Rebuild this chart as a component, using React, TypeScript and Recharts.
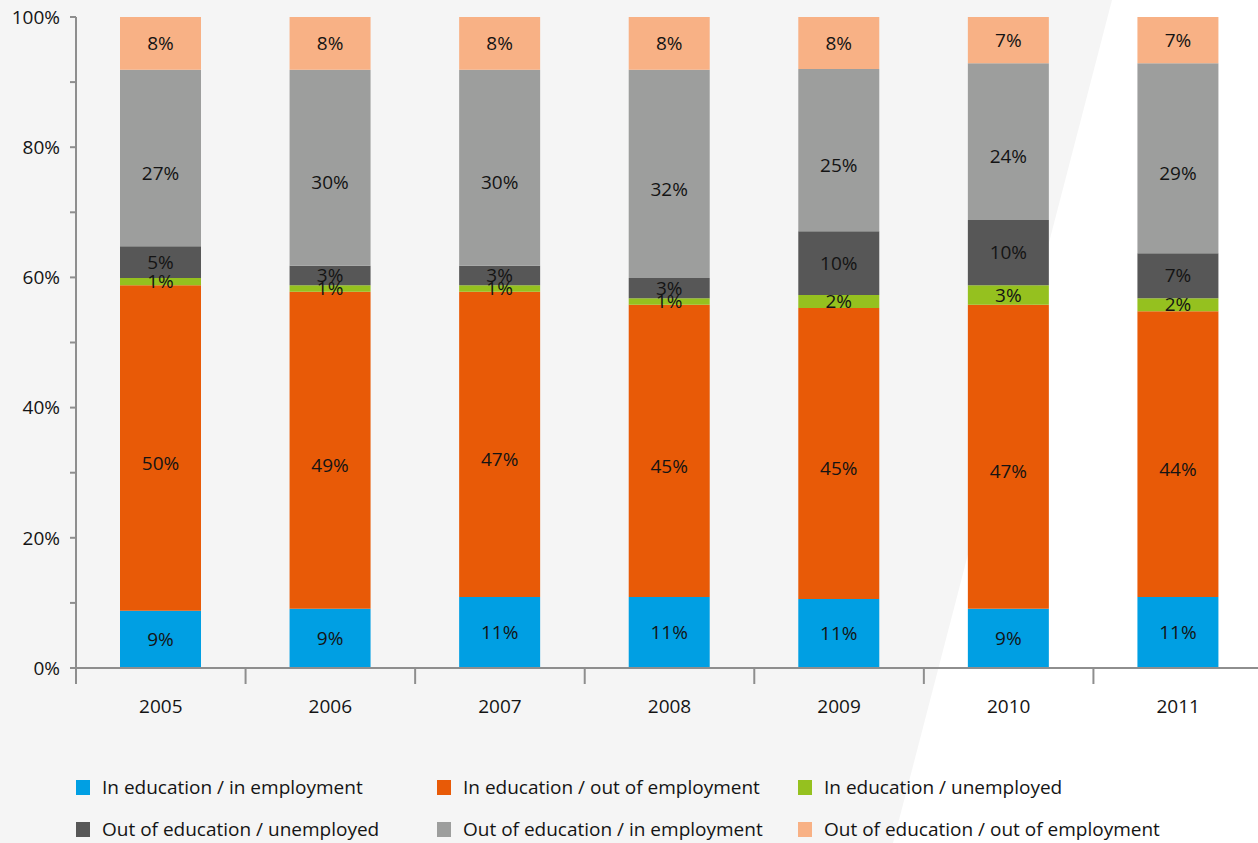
import React from 'react';
import { BarChart, Bar, XAxis, YAxis, LabelList } from 'recharts';

const years = ['2005', '2006', '2007', '2008', '2009', '2010', '2011'];

// shares in %, bottom to top of each stack
const inEduInEmp = [8.8, 9.1, 10.9, 10.9, 10.6, 9.1, 10.9];
const inEduOutEmp = [50.0, 48.7, 46.9, 44.9, 44.7, 46.7, 43.9];
const inEduUnemp = [1.1, 1.0, 1.0, 1.0, 2.0, 3.0, 2.0];
const outEduUnemp = [4.9, 3.0, 3.0, 3.1, 9.8, 10.0, 6.9];
const outEduInEmp = [27.1, 30.1, 30.1, 32.0, 24.9, 24.1, 29.2];
const outEduOutEmp = [8.1, 8.1, 8.1, 8.1, 8.0, 7.1, 7.1];

const yTicks = [0, 10, 20, 30, 40, 50, 60, 70, 80, 90, 100];

const series = [
  { key: 'a', name: 'In education / in employment', values: inEduInEmp, color: '#009FE3' },
  { key: 'b', name: 'In education / out of employment', values: inEduOutEmp, color: '#E85A07' },
  { key: 'c', name: 'In education / unemployed', values: inEduUnemp, color: '#95C11F' },
  { key: 'd', name: 'Out of education / unemployed', values: outEduUnemp, color: '#575757' },
  { key: 'e', name: 'Out of education / in employment', values: outEduInEmp, color: '#9D9E9D' },
  { key: 'f', name: 'Out of education / out of employment', values: outEduOutEmp, color: '#F8B185' },
];

const data = years.map((year, i) => {
  const row: any = { year };
  series.forEach((s) => (row[s.key] = s.values[i]));
  return row;
});

const FONT = '"Open Sans", "Noto Sans", sans-serif';
const AXIS = '#8E8E8E';
const TEXT = '#141414';
const CHART_W = 1270;
const MARGIN = { top: 17, right: 7, bottom: 0, left: 0 };
const Y_W = 76;
const BAND = (CHART_W - MARGIN.right - Y_W) / years.length;

function YearTick(props: any) {
  const { x, y, payload, index } = props;
  const half = payload?.offset || BAND / 2;
  const last = index === years.length - 1;
  return (
    <g>
      <line x1={x - half} x2={x - half} y1={y} y2={y + 16} stroke={AXIS} strokeWidth={2} />
      {last && <line x1={x + half} x2={x + half} y1={y} y2={y + 16} stroke={AXIS} strokeWidth={2} />}
      <text x={x} y={y + 45} textAnchor="middle" fill={TEXT} fontSize={19} fontFamily={FONT}>
        {payload.value}
      </text>
    </g>
  );
}

// value label; tall segments get their label pushed a bit below centre, like the original
function SegLabel(props: any) {
  const { x, y, width, height, value } = props;
  const h = Math.abs(height);
  const top = Math.min(y, y + height);
  const cy = top + h / 2 + (h > 120 ? 15 : 0);
  return (
    <text
      x={x + width / 2}
      y={cy}
      dy="0.35em"
      textAnchor="middle"
      fill={TEXT}
      fontSize={19}
      fontFamily={FONT}
    >
      {`${Math.round(Number(value))}%`}
    </text>
  );
}

export default function App() {
  return (
    <div
      style={{
        position: 'fixed',
        top: 0,
        left: 0,
        width: 1258,
        height: 843,
        overflow: 'hidden',
        background: '#fff',
        fontFamily: FONT,
      }}
    >
      {/* slanted grey backdrop */}
      <svg width={1258} height={843} style={{ position: 'absolute', top: 0, left: 0 }}>
        <polygon points="0,0 1112,0 893,843 0,843" fill="#F5F5F5" />
      </svg>

      <div style={{ position: 'absolute', top: 0, left: 0 }}>
        <BarChart width={CHART_W} height={843} data={data} margin={MARGIN} barSize={81}>
          <YAxis
            width={Y_W}
            domain={[0, 100]}
            ticks={yTicks}
            interval={0}
            tickFormatter={(v: number) => (v % 20 === 0 ? `${v}%` : '')}
            axisLine={{ stroke: AXIS, strokeWidth: 2 }}
            tickLine={{ stroke: AXIS, strokeWidth: 2 }}
            tickSize={6}
            tickMargin={10}
            tick={{ fill: TEXT, fontSize: 19, fontFamily: FONT }}
          />
          <XAxis
            dataKey="year"
            height={175}
            interval={0}
            tickSize={0}
            tickMargin={0}
            tickLine={false}
            axisLine={{ stroke: AXIS, strokeWidth: 2 }}
            tick={<YearTick />}
          />
          {series.map((s) => (
            <Bar key={s.key} dataKey={s.key} name={s.name} stackId="s" fill={s.color} isAnimationActive={false}>
              <LabelList dataKey={s.key} content={<SegLabel />} />
            </Bar>
          ))}
        </BarChart>
      </div>

      {/* legend, two rows of three */}
      {series.map((s, i) => {
        const col = i % 3;
        const row = Math.floor(i / 3);
        return (
          <div
            key={s.key}
            style={{
              position: 'absolute',
              left: 76 + col * 361,
              top: 776 + row * 42,
              display: 'flex',
              alignItems: 'center',
              gap: 12,
              height: 22,
            }}
          >
            <div style={{ width: 14, height: 15, background: s.color }} />
            <span style={{ fontSize: 19, color: TEXT, whiteSpace: 'nowrap' }}>{s.name}</span>
          </div>
        );
      })}
    </div>
  );
}
